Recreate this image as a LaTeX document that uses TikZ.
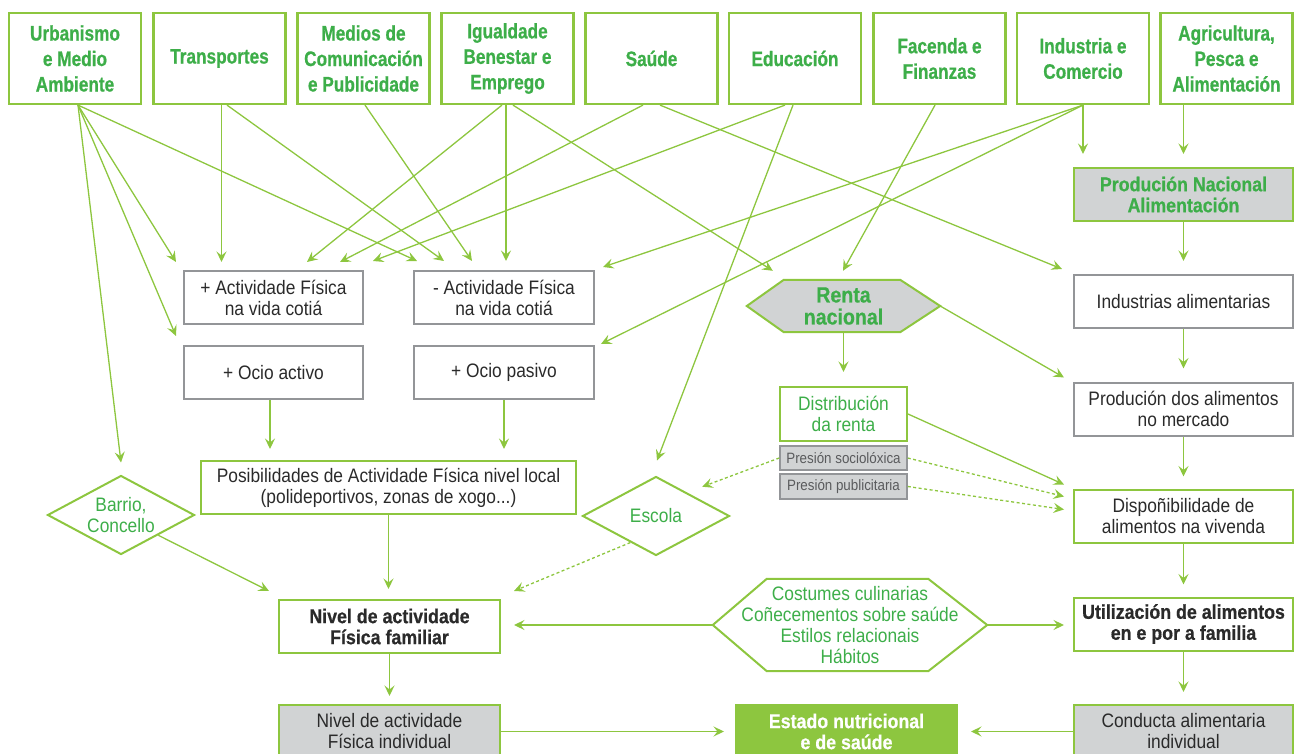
\documentclass[tikz,border=0pt]{standalone}
\usepackage{fontspec}
\setmainfont{Liberation Sans}
\newfontfamily\ftop[FakeStretch=0.82,BoldFeatures={FakeBold=0.7}]{Liberation Sans}
\newfontfamily\fcnd[FakeStretch=0.89,BoldFeatures={FakeBold=0.6}]{Liberation Sans}
\usetikzlibrary{arrows.meta,shapes.geometric,calc}
\definecolor{lg}{HTML}{8DC63F}
\definecolor{tg}{HTML}{3DAE49}
\definecolor{gf}{HTML}{D1D3D4}
\definecolor{gl}{HTML}{939598}
\definecolor{dt}{HTML}{2A2A2A}
\definecolor{st}{HTML}{5A5B5D}
\begin{document}
\begin{tikzpicture}[x=1pt,y=-1pt,
  topbox/.style={draw=lg,line width=2.2pt,minimum width=132pt,minimum height=91pt,inner sep=0pt,align=center,text=tg,font=\ftop\bfseries\fontsize{21}{25.5}\selectfont},
  regtxt/.style={font=\fcnd\fontsize{19.5}{21}\selectfont},
  boldtxt/.style={font=\fcnd\bfseries\fontsize{20}{21}\selectfont},
  greybox/.style={draw=gl,line width=2pt,minimum width=219pt,minimum height=53pt,inner sep=0pt,align=center,text=dt,regtxt},
  greenbox/.style={greybox,draw=lg},
  shadebox/.style={greybox,draw=lg,fill=gf},
  smallbox/.style={draw=gl,fill=gf,line width=1.5pt,minimum width=127pt,inner sep=0pt,text=st,font=\fcnd\fontsize{15}{16}\selectfont},
  dia/.style={diamond,draw=lg,line width=2pt,minimum width=147pt,minimum height=79pt,aspect=1.86,inner sep=0pt,align=center,text=tg,regtxt},
  polyline/.style={draw=lg,line width=2pt,line join=miter},
  arr/.style={draw=lg,line width=1.3pt,-{Stealth[length=10.5pt,width=10pt,inset=4pt]}},
  dsh/.style={arr,dash pattern=on 3pt off 2.5pt}
]
\useasboundingbox (0,0) rectangle (1294,754);

% top row
\node[topbox] (urb) at (75,58.5) {Urbanismo\\e Medio\\Ambiente};
\node[topbox] (tra) at (219.5,58.5) {Transportes};
\node[topbox] (med) at (363.5,58.5) {Medios de\\Comunicación\\e Publicidade};
\node[topbox] (igu) at (507.5,58.5) {Igualdade\\Benestar e\\Emprego};
\node[topbox] (sau) at (651.5,58.5) {Saúde};
\node[topbox] (edu) at (795,58.5) {Educación};
\node[topbox] (fac) at (939.5,58.5) {Facenda e\\Finanzas};
\node[topbox] (ind) at (1083,58.5) {Industria e\\Comercio};
\node[topbox] (agr) at (1226.5,58.5) {Agricultura,\\Pesca e\\Alimentación};

% right column
\node[shadebox,text=tg,boldtxt] (pna) at (1183.5,194.5) {Produción Nacional\\Alimentación};
\node[greybox] (ial) at (1183.5,301.5) {Industrias alimentarias};
\node[greybox] (pme) at (1183.5,409) {Produción dos alimentos\\no mercado};
\node[greenbox] (dis) at (1183.5,516) {Dispoñibilidade de\\alimentos na vivenda};
\node[greenbox,boldtxt] (uti) at (1183.5,624) {Utilización de alimentos\\en e por a familia};
\node[shadebox] (con) at (1183.5,731.5) {Conducta alimentaria\\individual};

% left middle
\node[greybox,minimum width=179pt] (afp) at (273.5,297.5) {+ Actividade Física\\na vida cotiá};
\node[greybox,minimum width=179pt] (oca) at (273.5,372.5) {+ Ocio activo};
\node[greybox,minimum width=180pt] (afm) at (504,297.5) {- Actividade Física\\na vida cotiá};
\node[greybox,minimum width=180pt] (ocp) at (504,372.5) {+ Ocio pasivo};
\node[greenbox,minimum width=375pt] (pos) at (388.5,487.5) {Posibilidades de Actividade Física nivel local\\(polideportivos, zonas de xogo...)};
\node[greenbox,boldtxt,minimum width=221pt] (nfa) at (389.5,626.5) {Nivel de actividade\\Física familiar};
\node[shadebox,minimum width=221pt] (nin) at (389.5,731.5) {Nivel de actividade\\Física individual};
\node[greybox,draw=lg,fill=lg,text=white,boldtxt,minimum width=221pt] (est) at (846.5,731.5) {Estado nutricional\\e de saúde};

% diamonds
\node[dia] (bar) at (121,515) {Barrio,\\Concello};
\node[dia] (esc) at (656,516) {Escola};

% renta
\node[minimum width=193pt,minimum height=52pt,inner sep=0pt] (ren) at (843.5,306) {};
\draw[polyline,fill=gf] (ren.west) -- ([xshift=37pt]ren.north west) -- ([xshift=-40pt]ren.north east) -- (ren.east) -- ([xshift=-40pt]ren.south east) -- ([xshift=37pt]ren.south west) -- cycle;
\node[text=tg,align=center,font=\fcnd\bfseries\fontsize{22}{22}\selectfont] (rentxt) at (ren.center) {Renta\\nacional};

\node[greenbox,text=tg,minimum width=127pt,minimum height=54pt] (dre) at (843.5,414) {Distribución\\da renta};
\node[smallbox,minimum height=24pt] (pso) at (843.5,458) {Presión sociolóxica};
\node[smallbox,minimum height=25pt] (ppu) at (843.5,486.5) {Presión publicitaria};

% costumes hexagon
\node[minimum width=274pt,minimum height=92pt,inner sep=0pt,align=center,text=tg,regtxt] (cos) at (850,625) {Costumes culinarias\\Coñecementos sobre saúde\\Estilos relacionais\\Hábitos};
\draw[polyline] (cos.west) -- ([xshift=54pt]cos.north west) -- ([xshift=-59pt]cos.north east) -- (cos.east) -- ([xshift=-59pt]cos.south east) -- ([xshift=54pt]cos.south west) -- cycle;

% connectors from top row
\draw[arr] ([xshift=3pt]urb.south) -- ([yshift=12pt]bar.north);
\draw[arr] ([xshift=3pt]urb.south) -- ([xshift=-7pt,yshift=9pt]oca.north west);
\draw[arr] ([xshift=3pt]urb.south) -- ([xshift=-7pt,yshift=8pt]afp.north west);
\draw[arr] ([xshift=3pt]urb.south) -- ([xshift=4pt,yshift=9pt]afm.north west);
\draw[arr] ([xshift=2pt]tra.south) -- ([xshift=-52pt,yshift=8pt]afp.north);
\draw[arr] ([xshift=7.5pt]tra.south) -- ([xshift=31pt,yshift=9pt]afm.north west);
\draw[arr] ([xshift=1.5pt]med.south) -- ([xshift=59pt,yshift=9pt]afm.north west);
\draw[arr] ([xshift=-5.5pt]igu.south) -- ([xshift=33.5pt,yshift=8pt]afp.north);
\draw[arr] ([xshift=-1.5pt]igu.south) -- ([xshift=2pt,yshift=9pt]afm.north);
\draw[arr] ([xshift=5.5pt]igu.south) -- ([xshift=26pt,yshift=9pt]ren.north west);
\draw[arr] ([xshift=-8.5pt]sau.south) -- ([xshift=66.5pt,yshift=8pt]afp.north);
\draw[arr] ([xshift=8.5pt]sau.south) -- ([xshift=-11pt,yshift=5pt]ial.north west);
\draw[arr] ([xshift=-10pt]edu.south) -- ([xshift=99.5pt,yshift=9pt]afp.north);
\draw[arr] ([xshift=-2pt]edu.south) -- ([xshift=1pt,yshift=15pt]esc.north);
\draw[arr] ([xshift=-4.5pt]fac.south) -- ([xshift=-0.5pt,yshift=9pt]ren.north);
\draw[arr] (ind.south) -- ([xshift=8pt,yshift=3pt]afm.north east);
\draw[arr] (ind.south) -- ([xshift=6pt,yshift=1pt]ocp.north east);
\draw[arr] (ind.south) -- ([xshift=-100.5pt,yshift=13pt]pna.north);
\draw[arr] ([xshift=-43pt]agr.south) -- ([yshift=13pt]pna.north);

% right column chain
\draw[arr,shorten >=13pt] (pna) -- (ial);
\draw[arr,shorten >=13pt] (ial) -- (pme);
\draw[arr,shorten >=12pt] (pme) -- (dis);
\draw[arr,shorten >=12pt] (dis) -- (uti);
\draw[arr,shorten >=12pt] (uti) -- (con);

% middle
\draw[arr,shorten >=14pt] (ren.south) -- (dre.north);
\draw[arr] (ren.east) -- ([xshift=-9pt,yshift=4pt]pme.north west);
\draw[arr] (dre.east) -- ([xshift=-9pt,yshift=4pt]dis.north west);
\draw[dsh] (pso.east) -- ([xshift=-9pt,yshift=-8pt]dis.north west);
\draw[dsh] (ppu.east) -- ([xshift=-9pt,yshift=-21pt]dis.north west);
\draw[dsh] (pso.west) -- ([xshift=9pt,yshift=9pt]esc.north east);

% left
\draw[arr] ([xshift=-3.5pt]oca.south) -- ([xshift=-118.5pt,yshift=11pt]pos.north);
\draw[arr] (ocp.south) -- ([xshift=115.5pt,yshift=11pt]pos.north);
\draw[arr,shorten >=10pt] (pos.south) -- (pos.south |- nfa.north);
\draw[arr,shorten >=8pt] (nfa) -- (nin);
\draw[arr] (bar.south east) -- ([xshift=-9pt,yshift=8pt]nfa.north west);
\draw[dsh] (esc.226) -- ([xshift=13pt,yshift=8pt]nfa.north east);

% bottom
\draw[arr,shorten >=13pt] (cos.west) -- (cos.west -| nfa.east);
\draw[arr,shorten >=9pt] (cos.east) -- (cos.east -| uti.west);
\draw[arr,shorten >=11pt] (nin.east) -- (nin.east -| est.west);
\draw[arr,shorten >=13pt] (con.west) -- (con.west -| est.east);
\end{tikzpicture}
\end{document}
